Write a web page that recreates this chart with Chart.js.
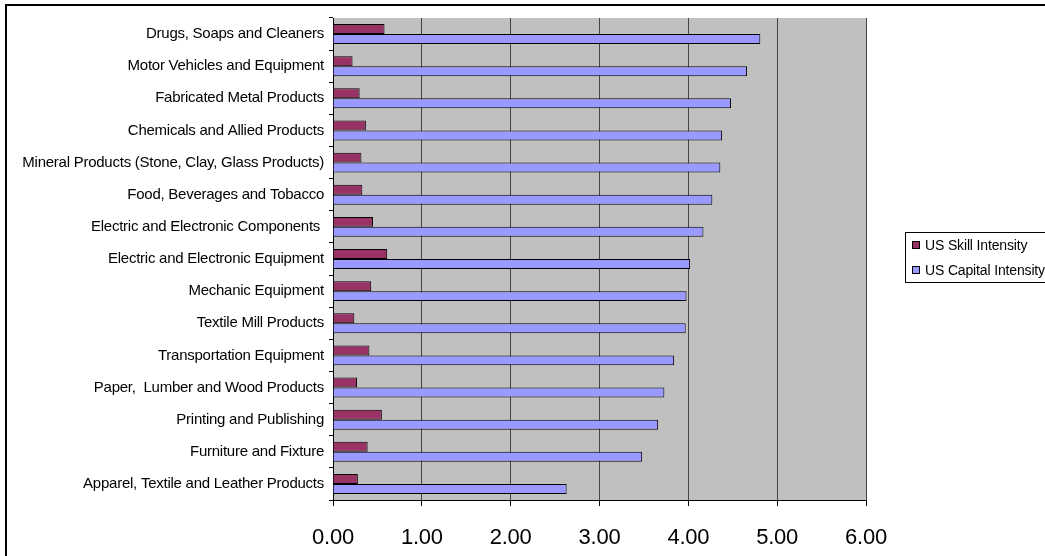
<!DOCTYPE html>
<html>
<head>
<meta charset="utf-8">
<title>US Skill and Capital Intensity by Industry</title>
<script src="https://cdn.jsdelivr.net/npm/chart.js@4/dist/chart.umd.min.js"></script>
<style>
  html, body { margin: 0; padding: 0; background: #ffffff; }
  #wrap { width: 1045px; height: 556px; }
</style>
</head>
<body>
<div id="wrap"><canvas id="c" width="1045" height="556"></canvas></div>
<script>
// Industries, top to bottom
const categories = [
  'Drugs, Soaps and Cleaners',
  'Motor Vehicles and Equipment',
  'Fabricated Metal Products',
  'Chemicals and Allied Products',
  'Mineral Products (Stone, Clay, Glass Products)',
  'Food, Beverages and Tobacco',
  'Electric and Electronic Components ',
  'Electric and Electronic Equipment',
  'Mechanic Equipment',
  'Textile Mill Products',
  'Transportation Equipment',
  'Paper,  Lumber and Wood Products',
  'Printing and Publishing',
  'Furniture and Fixture',
  'Apparel, Textile and Leather Products'
];

const skillIntensity = [0.58, 0.22, 0.30, 0.37, 0.32, 0.33, 0.45, 0.61, 0.43, 0.24, 0.41, 0.27, 0.55, 0.39, 0.28];
const capitalIntensity = [4.81, 4.66, 4.48, 4.38, 4.36, 4.27, 4.17, 4.02, 3.98, 3.97, 3.84, 3.73, 3.66, 3.48, 2.63];

const seriesNames = ['US Skill Intensity', 'US Capital Intensity'];
const xTickLabels = ['0.00', '1.00', '2.00', '3.00', '4.00', '5.00', '6.00'];

const FONT = '"Liberation Sans", Arial, Helvetica, sans-serif';
const SPACING = '-0.25px';

// Slightly condensed text, reapplied whenever the context may have been reset
function tighten(chart) {
  if ('letterSpacing' in chart.ctx) chart.ctx.letterSpacing = SPACING;
}

const frame = {
  id: 'frame',
  beforeUpdate: tighten,
  beforeLayout: tighten,
  beforeDraw(chart) {
    tighten(chart);
    const { ctx, chartArea: a } = chart;
    ctx.save();
    ctx.fillStyle = '#c0c0c0';
    ctx.fillRect(a.left, a.top, a.right - a.left, a.bottom - a.top);
    ctx.restore();
  },
  afterDraw(chart) {
    const ctx = chart.ctx;
    ctx.save();
    // outer chart border
    ctx.strokeStyle = '#000';
    ctx.lineWidth = 2;
    ctx.strokeRect(6, 5, 1200, 1200);

    // legend box
    const lx = 905.5, ly = 232.5;
    ctx.lineWidth = 1;
    ctx.fillStyle = '#fff';
    ctx.fillRect(lx, ly, 200, 50);
    ctx.strokeRect(lx, ly, 200, 50);
    ctx.font = '14px ' + FONT;
    ctx.textBaseline = 'middle';
    ctx.textAlign = 'left';
    if ('letterSpacing' in ctx) ctx.letterSpacing = '-0.15px';
    chart.data.datasets.forEach((ds, i) => {
      const cy = 245 + i * 25;
      ctx.fillStyle = ds.backgroundColor;
      ctx.fillRect(912.5, cy - 3.5, 7, 7);
      ctx.strokeStyle = '#000';
      ctx.strokeRect(912.5, cy - 3.5, 7, 7);
      ctx.fillStyle = '#000';
      ctx.fillText(ds.label, 925, cy + 1);
    });
    ctx.restore();
  }
};

new Chart(document.getElementById('c'), {
  type: 'bar',
  data: {
    labels: categories,
    datasets: [
      {
        label: seriesNames[0],
        data: skillIntensity,
        backgroundColor: '#993366',
        borderColor: '#000000',
        borderWidth: 1,
        categoryPercentage: 0.62,
        barPercentage: 1.0
      },
      {
        label: seriesNames[1],
        data: capitalIntensity,
        backgroundColor: '#9999ff',
        borderColor: '#000000',
        borderWidth: 1,
        categoryPercentage: 0.62,
        barPercentage: 1.0
      }
    ]
  },
  options: {
    indexAxis: 'y',
    responsive: false,
    animation: false,
    devicePixelRatio: 1,
    layout: { padding: { top: 18, left: 6, right: 179, bottom: 0 } },
    plugins: {
      legend: { display: false },
      tooltip: { enabled: false }
    },
    scales: {
      x: {
        type: 'linear',
        min: 0,
        max: 6,
        afterFit(scale) { scale.height = 56; },
        ticks: {
          stepSize: 1,
          padding: 19,
          color: '#000',
          font: { family: FONT, size: 22 },
          callback: (v) => xTickLabels[Math.round(v)]
        },
        grid: {
          color: '#454545',
          lineWidth: 1,
          drawTicks: true,
          tickLength: 6,
          tickColor: '#000'
        },
        border: { display: true, color: '#000', width: 1 }
      },
      y: {
        afterFit(scale) { scale.width = 327; },
        ticks: {
          padding: 5,
          color: '#000',
          autoSkip: false,
          font: { family: FONT, size: 15 }
        },
        grid: {
          offset: true,
          drawOnChartArea: false,
          drawTicks: true,
          tickLength: 4,
          color: '#000'
        },
        border: { display: true, color: '#000', width: 1 }
      }
    }
  },
  plugins: [frame]
});
</script>
</body>
</html>
